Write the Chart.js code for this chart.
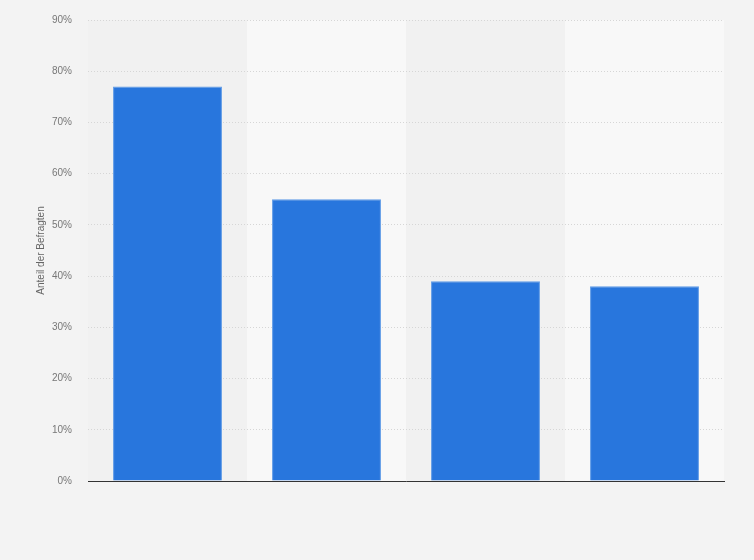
<!DOCTYPE html>
<html>
<head>
<meta charset="utf-8">
<script src="https://cdn.jsdelivr.net/npm/chart.js@4"></script>
<style>
  html, body { margin: 0; padding: 0; background: #f3f3f3; }
  #wrap { width: 754px; height: 560px; }
</style>
</head>
<body>
<div id="wrap"><canvas id="chart"></canvas></div>
<script>
// values (share of respondents, %)
var categories = ['Kategorie 1', 'Kategorie 2', 'Kategorie 3', 'Kategorie 4'];
var shares = [77, 55, 39, 38];
var yTicks = [0, 10, 20, 30, 40, 50, 60, 70, 80, 90];

// alternating column backgrounds behind the bars
var bandPlugin = {
    id: 'bands',
    beforeDraw: function (chart) {
        var ctx = chart.ctx, area = chart.chartArea, x = chart.scales.x;
        var step = (area.right - area.left) / categories.length;
        ctx.save();
        categories.forEach(function (c, i) {
            var left = x.getPixelForValue(i) - step / 2;
            ctx.fillStyle = i % 2 ? '#f8f8f8' : '#f1f1f1';
            ctx.fillRect(left, area.top, step, area.bottom - area.top);
        });
        ctx.restore();
    }
};

var ctx = document.getElementById('chart');
var barChart = new Chart(ctx, {
    type: 'bar',
    plugins: [bandPlugin],
    data: {
        labels: categories,
        datasets: [{
            data: shares,
            backgroundColor: '#2876dd',
            borderColor: '#5f9be6',
            borderWidth: { top: 1, left: 1, right: 1, bottom: 0 },
            categoryPercentage: 1,
            barPercentage: 0.685
        }]
    },
    options: {
        responsive: true,
        maintainAspectRatio: false,
        animation: false,
        layout: { padding: { left: 35, right: 30, top: 20, bottom: 79 } },
        plugins: {
            legend: { display: false },
            tooltip: { enabled: false }
        },
        scales: {
            x: {
                grid: { display: false },
                ticks: { display: false },
                border: { color: '#333333', width: 1 },
                afterFit: function (s) { s.height = 0; }
            },
            y: {
                min: 0,
                max: 90,
                afterBuildTicks: function (s) {
                    s.ticks = yTicks.map(function (v) { return { value: v }; });
                },
                afterFit: function (s) {
                    s.width = 53;
                    s.paddingTop = 0;
                    s.paddingBottom = 0;
                },
                ticks: {
                    padding: 16,
                    color: '#777777',
                    font: { family: 'Liberation Sans', size: 10 },
                    callback: function (v) { return v + '%'; }
                },
                grid: { color: '#d6d6d6', drawTicks: false },
                border: { display: false, dash: [1, 2] },
                title: {
                    display: true,
                    text: 'Anteil der Befragten',
                    color: '#666666',
                    font: { family: 'Liberation Sans', size: 10 },
                    padding: 0
                }
            }
        }
    }
});
</script>
</body>
</html>
